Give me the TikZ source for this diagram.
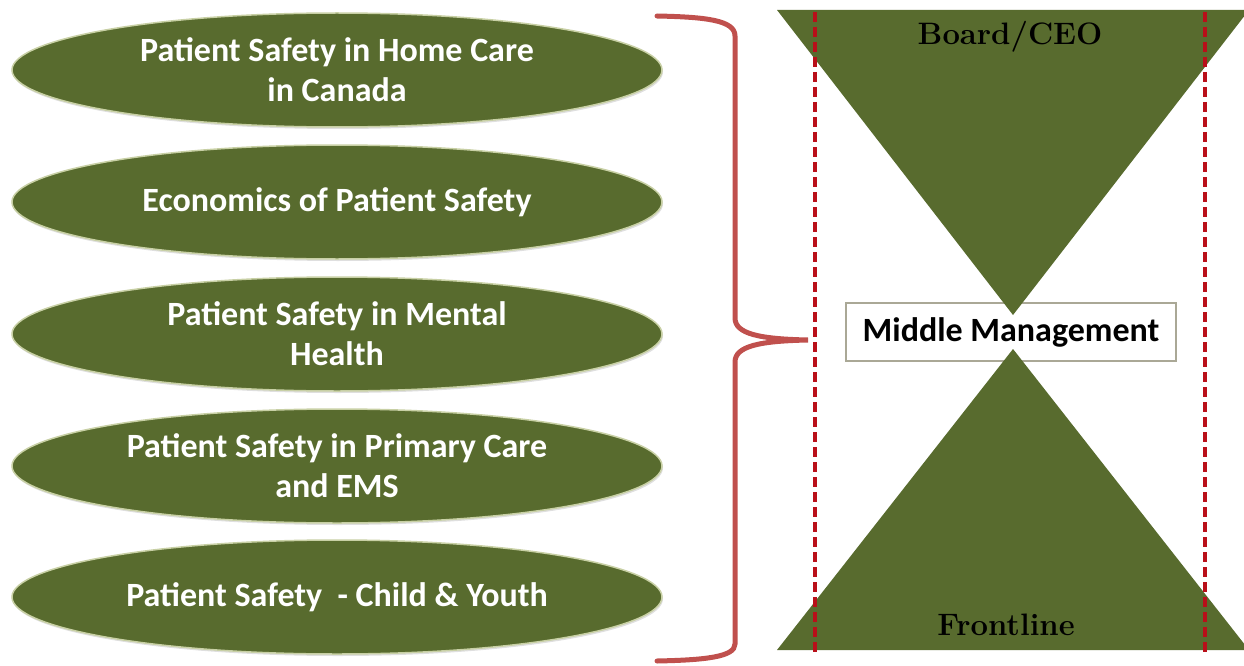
\documentclass[tikz,border=0pt]{standalone}
\usepackage{fontspec}
\usetikzlibrary{shapes.geometric,positioning,shadows}
\newfontfamily\topicfont{Carlito}
\definecolor{olivefill}{RGB}{88,107,46}
\definecolor{olivering}{RGB}{200,208,165}
\definecolor{bracered}{RGB}{192,80,77}
\definecolor{dashred}{RGB}{185,15,25}
\definecolor{boxline}{RGB}{170,168,150}

\tikzset{
  topic/.style={ellipse, fill=olivefill, draw=olivering, line width=1.5pt,
    minimum width=650pt, minimum height=114pt, inner sep=0pt, text=white,
    align=center, font=\topicfont\bfseries\fontsize{34}{40}\selectfont,
    drop shadow={shadow xshift=1pt, shadow yshift=-2pt, opacity=.25}},
  tierlabel/.style={text=black, font=\bfseries\fontsize{31}{34}\selectfont},
  midbox/.style={draw=boxline, fill=white, line width=2.5pt,
    minimum width=330pt, minimum height=58pt, inner sep=0pt,
    font=\topicfont\bfseries\fontsize{34}{38}\selectfont},
  dashline/.style={dashred, line width=3.5pt, dash pattern=on 10pt off 5pt}
}

\begin{document}
\begin{tikzpicture}[x=1pt, y=-1pt]
    \useasboundingbox (0,0) rectangle (1244,666);

    % Brace
    \coordinate (bracetop) at (657,16);
    \coordinate (bracetip) at (808,340);
    \coordinate (bracebot) at (657,661);
    \draw[bracered, line width=5pt, line cap=round]
        (bracetop) .. controls (705,17) and (735,20) .. (735,36)
        -- (735,318) .. controls (735,334) and (760,339) .. (bracetip)
        .. controls (760,341) and (735,346) .. (735,362)
        -- (735,644) .. controls (735,657) and (705,660) .. (bracebot);

    % Topics
    \foreach \i/\y/\t in {1/70/{Patient Safety in Home Care\\in Canada},
                          2/202/{Economics of Patient Safety},
                          3/334/{Patient Safety in Mental\\Health},
                          4/466/{Patient Safety in Primary Care\\and EMS},
                          5/597/{Patient Safety\ \ - Child \& Youth}} {
        \node[topic] (topic\i) at (337,\y) {\t};
    }

    % Middle management
    \node[midbox] (middle) at (1011,332) {Middle Management};

    % Hourglass
    \fill[olivefill] (777,10) -- (1249,10) -- (1013,315) -- cycle;
    \fill[olivefill] (777,650) -- (1249,650) -- (1013,349) -- cycle;
    \node[tierlabel] (board) at (1010,37) {Board/CEO};
    \node[tierlabel] (front) at (1006,625) {Frontline};

    % Dashed bounds
    \draw[dashline] (815,12) -- (815,656);
    \draw[dashline] (1205,12) -- (1205,656);
\end{tikzpicture}
\end{document}
